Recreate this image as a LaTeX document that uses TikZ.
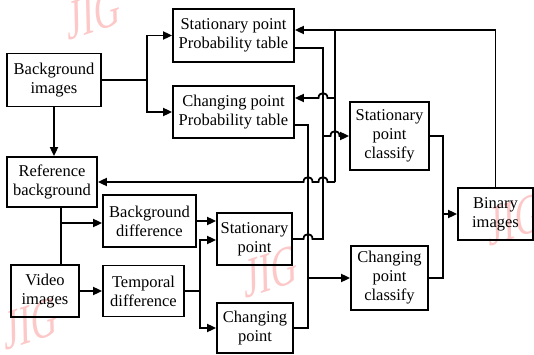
\documentclass[tikz,border=0pt]{standalone}
\usepackage{fontspec}
\setmainfont{Liberation Serif}
\usetikzlibrary{arrows.meta}
\definecolor{wmpink}{RGB}{252,200,200}
\begin{document}
\begin{tikzpicture}[x=1pt,y=-1pt,
  box/.style={draw, line width=1.8pt, align=center, inner sep=0pt,
              font=\fontsize{16.5}{19}\selectfont},
  wire/.style={line width=1.8pt},
  arr/.style={wire, -{Triangle[length=9pt,width=8pt]}},
  wm/.style={text=wmpink, inner sep=0pt, xscale=0.65, rotate=12,
             font=\fontsize{56}{56}\selectfont\itshape}]
\useasboundingbox (0,0) rectangle (534,355);

% watermark marks behind the chart
\node[wm] (wm1) at (93,14) {JIG};
\node[wm] (wm2) at (30,324) {JIG};
\node[wm] (wm3) at (270,272) {JIG};
\node[wm] (wm4) at (514,220) {JIG};

% boxes
\node[box, minimum width=94pt,  minimum height=53pt] (bgimg)  at (54,80)     {Background\\images};
\node[box, minimum width=121pt, minimum height=53pt] (spt)    at (233.5,35.5) {Stationary point\\Probability table};
\node[box, minimum width=121pt, minimum height=52pt] (cpt)    at (233.5,112)  {Changing point\\Probability table};
\node[box, minimum width=90pt,  minimum height=50pt] (refbg)  at (52,182)     {Reference\\background};
\node[box, minimum width=93pt,  minimum height=52pt] (bgdiff) at (149.5,221)  {Background\\difference};
\node[box, minimum width=68pt,  minimum height=52pt] (video)  at (45,291)     {Video\\images};
\node[box, minimum width=81pt,  minimum height=51pt] (tdiff)  at (143.5,291)  {Temporal\\difference};
\node[box, minimum width=75pt,  minimum height=52pt] (spoint) at (254.5,239)  {Stationary\\point};
\node[box, minimum width=76pt,  minimum height=50pt] (cpoint) at (255,328)    {Changing\\point};
\node[box, minimum width=79pt,  minimum height=68pt] (scls)   at (389.5,136)  {Stationary\\point\\classify};
\node[box, minimum width=77pt,  minimum height=64pt] (ccls)   at (389.5,278)  {Changing\\point\\classify};
\node[box, minimum width=75pt,  minimum height=52pt] (binary) at (495.5,214)  {Binary\\images};

% junction points
\coordinate (f1)  at (147,80);
\coordinate (j1)  at (61,223);
\coordinate (j2)  at (200,291);
\coordinate (t1)  at (200,240);
\coordinate (t2)  at (200,328);
\coordinate (bS1) at (323,239);
\coordinate (bS2) at (323,48);
\coordinate (bS3) at (323,136);
\coordinate (bC1) at (308,125);
\coordinate (bC2) at (308,328);
\coordinate (bC3) at (308,278);
\coordinate (fbT) at (335,30);
\coordinate (fbM) at (335,98);
\coordinate (fbB) at (335,182);
\coordinate (jo)  at (443,214);

% background images feed both probability tables and the reference
\draw[wire] (bgimg.east) -- (f1);
\draw[arr] (f1) |- (spt.west);
\draw[arr] (f1) |- (cpt.west);
\draw[arr] (bgimg.south) -- (bgimg.south |- refbg.north);

% reference background to video images, with a branch to the difference
\draw[wire] (refbg.south -| j1) -- (video.north -| j1);
\draw[arr] (j1) -- (j1 -| bgdiff.west);
\draw[arr] (video.east) -- (video.east -| tdiff.west);
\draw[arr] (bgdiff.east) -- (bgdiff.east -| spoint.west);

% temporal difference splits into both point boxes
\draw[wire] (tdiff.east) -- (j2);
\draw[arr] (j2) -- (t1) -- (t1 -| spoint.west);
\draw[arr] (j2) -- (t2) -- (t2 -| cpoint.west);

% stationary bus
\draw[wire] (spoint.east) -- (303.5,239) .. controls (303.5,232.5) and (312.5,232.5) .. (312.5,239)
  -- (bS1) -- (bS2) -- (bS2 -| spt.east);
\draw[arr] (bS3) -- (330.5,136) .. controls (330.5,129.5) and (339.5,129.5) .. (339.5,136)
  -- (bS3 -| scls.west);

% changing bus
\draw[wire] (cpt.east |- bC1) -- (bC1) -- (bC2) -- (bC2 -| cpoint.east);
\draw[arr] (bC3) -- (bC3 -| ccls.west);

% feedback from the binary images
\draw[arr] (binary.north) |- (fbT) -- (fbT -| spt.east);
\draw[wire] (fbT) -- (fbB);
\draw[arr] (fbM) -- (327.5,98) .. controls (327.5,91.5) and (318.5,91.5) .. (318.5,98)
  -- (fbM -| cpt.east);
\draw[arr] (fbB) -- (327.5,182) .. controls (327.5,175.5) and (318.5,175.5) .. (318.5,182)
  -- (312.5,182) .. controls (312.5,175.5) and (303.5,175.5) .. (303.5,182)
  -- (fbB -| refbg.east);

% classifier outputs merge into the binary images
\draw[wire] (scls.east) -| (jo);
\draw[wire] (ccls.east) -| (jo);
\draw[arr] (jo) -- (jo -| binary.west);
\end{tikzpicture}
\end{document}
